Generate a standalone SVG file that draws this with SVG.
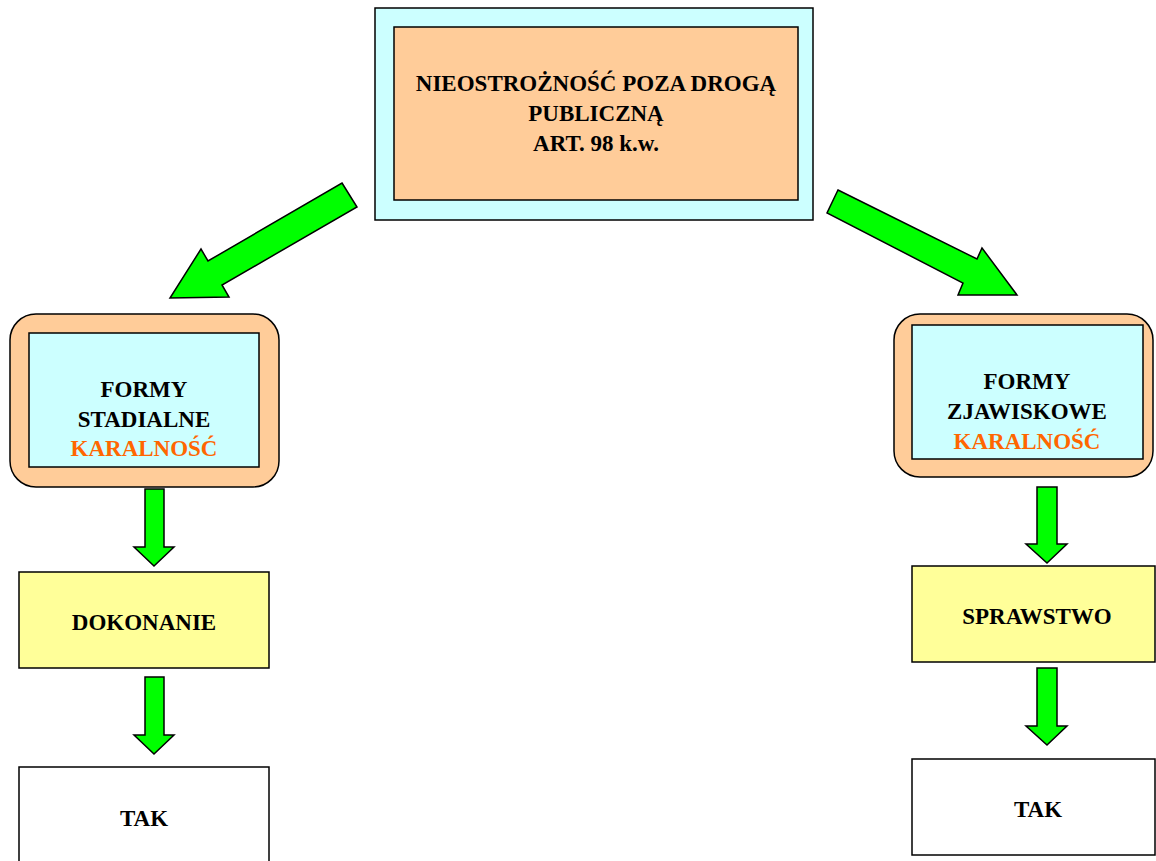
<svg xmlns="http://www.w3.org/2000/svg" width="1156" height="861" viewBox="0 0 1156 861">
<style>
.t{font-family:"Liberation Serif","Times New Roman",serif;font-weight:bold;font-size:23px;fill:#000;text-anchor:middle}
.o{fill:#FF6600}
.box{stroke:#000;stroke-width:1.5}
.arr{fill:#00FF00;stroke:#000;stroke-width:1.5;stroke-linejoin:miter}
</style>
<rect width="1156" height="861" fill="#fff"/>
<g id="top">
<rect class="box" x="375" y="8" width="438" height="212" fill="#CCFFFF"/>
<rect class="box" x="394" y="27" width="404" height="173" fill="#FFCC99"/>
<text class="t" x="596" y="91">NIEOSTROŻNOŚĆ POZA DROGĄ</text>
<text class="t" x="596" y="121">PUBLICZNĄ</text>
<text class="t" x="596" y="151">ART. 98 k.w.</text>
</g>
<g id="stadialne">
<rect class="box" x="10" y="314" width="269" height="173" rx="26" fill="#FFCC99"/>
<rect class="box" x="29" y="333" width="230" height="134" fill="#CCFFFF"/>
<text class="t" x="144" y="397">FORMY</text>
<text class="t" x="144" y="427">STADIALNE</text>
<text class="t o" x="144" y="456">KARALNOŚĆ</text>
</g>
<g id="zjawiskowe">
<rect class="box" x="894" y="314" width="259" height="163" rx="26" fill="#FFCC99"/>
<rect class="box" x="912" y="325" width="231" height="134" fill="#CCFFFF"/>
<text class="t" x="1027" y="389">FORMY</text>
<text class="t" x="1027" y="419">ZJAWISKOWE</text>
<text class="t o" x="1027" y="449">KARALNOŚĆ</text>
</g>
<g id="dokonanie">
<rect class="box" x="19" y="572" width="250" height="96" fill="#FFFF99"/>
<text class="t" x="144" y="630">DOKONANIE</text>
</g>
<g id="sprawstwo">
<rect class="box" x="912" y="566" width="243" height="96" fill="#FFFF99"/>
<text class="t" x="1037" y="624">SPRAWSTWO</text>
</g>
<g id="tak-left">
<rect class="box" x="19" y="767" width="250" height="100" fill="#fff"/>
<text class="t" x="144" y="826">TAK</text>
</g>
<g id="tak-right">
<rect class="box" x="912" y="759" width="243" height="96" fill="#fff"/>
<text class="t" x="1038" y="817">TAK</text>
</g>
<g id="connectors">
<polygon class="arr" points="342,183 357,207 222,285 229,297 170,298 201,249 208,261"/>
<polygon class="arr" points="838,190 977,259 982,248 1017,295 958,295 963,283 827,213"/>
<polygon class="arr" points="145,489 164,489 164,547 174,547 154,566 134,547 145,547"/>
<polygon class="arr" points="145,677 164,677 164,735 174,735 154,754 134,735 145,735"/>
<polygon class="arr" points="1037,487 1057,487 1057,544 1067,544 1047,563 1026,544 1037,544"/>
<polygon class="arr" points="1037,668 1057,668 1057,726 1067,726 1047,745 1026,726 1037,726"/>
</g>
</svg>
